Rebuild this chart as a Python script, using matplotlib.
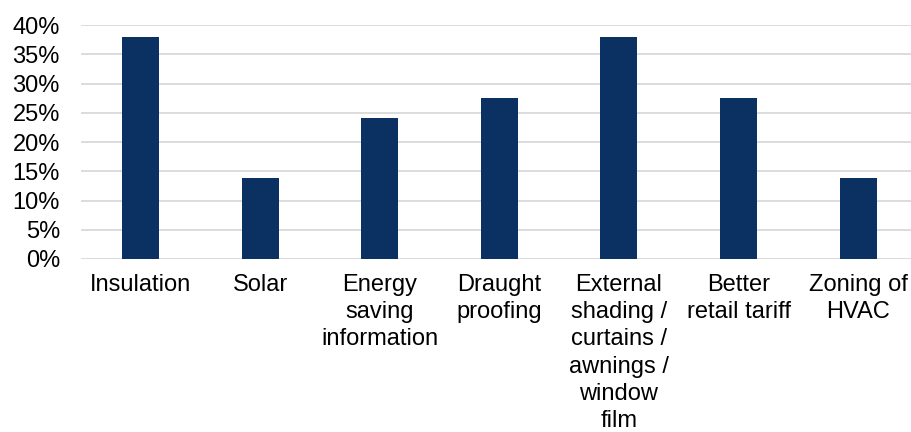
import matplotlib.pyplot as plt
from matplotlib.ticker import PercentFormatter

plt.rcParams['font.family'] = ['Liberation Sans', 'DejaVu Sans']

# survey shares (fraction of respondents)
categories = ['Insulation', 'Solar', 'Energy\nsaving\ninformation', 'Draught\nproofing',
              'External\nshading /\ncurtains /\nawnings /\nwindow\nfilm',
              'Better\nretail tariff', 'Zoning of\nHVAC']
shares = [0.379, 0.138, 0.241, 0.276, 0.379, 0.276, 0.138]
y_ticks = [0, 0.05, 0.10, 0.15, 0.20, 0.25, 0.30, 0.35, 0.40]

fig = plt.figure(figsize=(9.11, 4.32), dpi=100)
ax = fig.add_axes([0.0886, 0.4005, 0.919, 0.5415])

x = range(len(categories))
ax.bar(x, shares, width=0.31, color='#0b3162', zorder=3)

ax.set_ylim(0, 0.40)
ax.set_xlim(-0.5, len(categories) - 0.5)
ax.set_yticks(y_ticks)
ax.yaxis.set_major_formatter(PercentFormatter(1.0, decimals=0))
ax.grid(axis='y', color='#d9d9d9', linewidth=1.3, zorder=0)

ax.set_xticks(list(x))
ax.set_xticklabels(categories, linespacing=1.3, va='top')
ax.tick_params(axis='both', length=0, labelsize=17, colors='black')
ax.tick_params(axis='x', pad=11)
ax.tick_params(axis='y', pad=15)

for s in ax.spines.values():
    s.set_visible(False)

plt.savefig('out.png', dpi=100)
